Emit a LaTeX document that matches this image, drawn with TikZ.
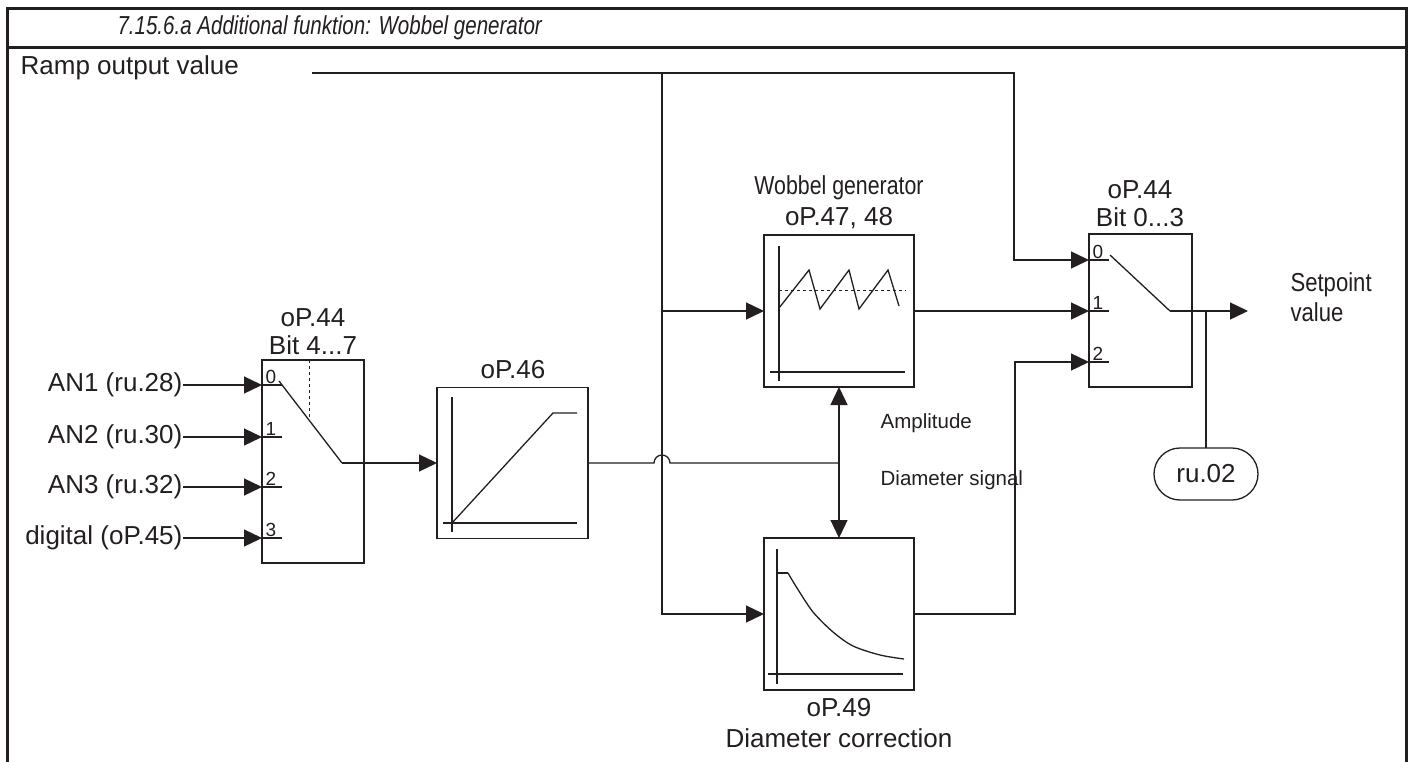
\documentclass[tikz,border=0pt]{standalone}
\usepackage{fontspec}
\setmainfont{Liberation Sans}
\usetikzlibrary{arrows.meta}
\definecolor{ink}{HTML}{231F20}
\begin{document}
\begin{tikzpicture}[x=1pt,y=-1pt,
  ink, line width=1.3pt,
  big/.style={font=\fontsize{26}{30}\selectfont, inner sep=0pt, text=ink},
  small/.style={font=\fontsize{20.5}{24}\selectfont, inner sep=0pt, text=ink},
  port/.style={font=\fontsize{19}{20}\selectfont, inner sep=0pt, text=ink, anchor=south west},
  blk/.style={draw=ink, line width=1.3pt, rectangle, inner sep=0pt, outer sep=0pt},
  arr/.style={-{Triangle[length=18pt,width=17pt]}},
  darr/.style={{Triangle[length=18pt,width=17pt]}-{Triangle[length=18pt,width=17pt]}},
  frame/.style={line width=3pt, draw=ink}
]
\useasboundingbox (0,0) rectangle (1412,762);
\fill[white] (0,0) rectangle (1412,762);

% frame
\draw[frame] (7,762) -- (7,9) -- (1406,9) -- (1406,762);
\draw[frame] (7,48) -- (1406,48);
\node[big, anchor=west, xscale=0.79, font=\fontsize{26}{30}\selectfont\itshape] (title) at (117,28) {7.15.6.a Additional funktion: Wobbel generator};

% ramp label
\node[big, anchor=west] (ramp) at (20,68) {Ramp output value};
\coordinate (rs) at (312,73);

% blocks
\node[blk, minimum width=102pt, minimum height=203pt] (lmux) at (313,461.5) {};
\node[blk, minimum width=151pt, minimum height=151pt] (op46) at (512.5,463) {};
\node[blk, minimum width=150pt, minimum height=152pt] (wob) at (839,311) {};
\node[blk, minimum width=150pt, minimum height=152pt] (dc) at (839,614) {};
\node[blk, minimum width=103pt, minimum height=153pt] (rmux) at (1140.5,310.5) {};
\node[blk, minimum width=104pt, minimum height=52pt, rounded corners=26pt, big] (ru) at (1206,474) {ru.02};

% block labels
\node[big] (l44a) at (313,318) {oP.44};
\node[big] (l44b) at (313,345) {Bit 4...7};
\node[big] (l46) at (513,370) {oP.46};
\node[big, xscale=0.82] (lwa) at (839,188) {Wobbel generator};
\node[big] (lwb) at (839,218) {oP.47, 48};
\node[big] (r44a) at (1140,190) {oP.44};
\node[big] (r44b) at (1140,217) {Bit 0...3};
\node[big] (l49) at (839,708) {oP.49};
\node[big] (ldc) at (839,738) {Diameter correction};
\node[small, anchor=west] (amp) at (880,423) {Amplitude};
\node[small, anchor=west] (dsig) at (880,480) {Diameter signal};
\node[big, anchor=west, xscale=0.85] (sp1) at (1290,285) {Setpoint};
\node[big, anchor=west, xscale=0.85] (sp2) at (1290,312) {value};

% left inputs
\node[big, anchor=east] (an1) at (183,385) {AN1 (ru.28)};
\node[big, anchor=east] (an2) at (183,437) {AN2 (ru.30)};
\node[big, anchor=east] (an3) at (183,487) {AN3 (ru.32)};
\node[big, anchor=east] (dig) at (183,538) {digital (oP.45)};
\foreach \n/\y/\k in {an1/385/0, an2/437/1, an3/487/2, dig/538/3}{
  \draw[arr] (\n.east) -- (\n.east -| lmux.west);
  \draw (262,\y) -- (282,\y);
  \node[port] at (265,\y-1) {\k};
}
% left switch
\draw (279,381) -- (342,463);
\draw[dashed, line width=1pt] (309,360) -- (309,418);
\draw[arr] (342,463) -- (op46.west);

% oP.46 graph
\draw (452,397) -- (452,532);
\draw (443,523) -- (577,523);
\draw (452,523) -- (553,413) -- (577,413);

% wobbel graph
\draw (779,246) -- (779,381);
\draw (770,372) -- (905,372);
\draw[dashed, line width=1pt] (779,290) -- (906,290);
\draw (779,308) -- (809,270) -- (820,309) -- (849,270) -- (859,309) -- (888,270) -- (899,306);

% diameter correction graph
\draw (777,549) -- (777,684);
\draw (768,674) -- (903,674);
\draw (777,573) -- (788,573);
\draw plot[smooth] coordinates {(788,573) (797,588) (813,612) (833,632) (853,646) (880,655) (904,659)};

% right mux ports
\foreach \y/\k in {260/0, 311/1, 362/2}{
  \draw (1089,\y) -- (1109,\y);
  \node[port] at (1092,\y-1) {\k};
}
\draw (1110,255) -- (1170,311);
\coordinate (sw) at (1170,311);
\coordinate (out) at (1248,311);
\draw[arr] (sw) -- (out);
\draw (1206,311) -- (ru.north);

% ramp line and branches
\coordinate (t1) at (1014,73);
\coordinate (v1) at (662,73);
\draw[arr] (rs) -- (t1) -- (1014,260) -- (1089,260);
\draw[arr] (v1) -- (662,614) -- (dc.west);
\draw[arr] (662,311) -- (wob.west);
\draw[arr] (wob.east) -- (1089,311);
\draw[arr] (dc.east) -- (1015,614) -- (1015,362) -- (1089,362);

% oP.46 output with jump
\coordinate (jn) at (839,463);
\draw (op46.east) -- (654,463) arc[start angle=180, end angle=0, radius=8pt] -- (jn);
\draw[darr] (wob.south) -- (dc.north);
\end{tikzpicture}
\end{document}
